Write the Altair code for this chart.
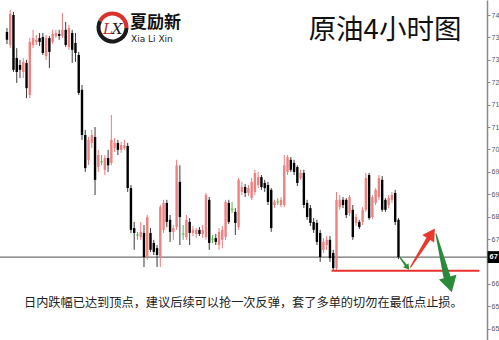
import altair as alt
import pandas as pd

# 4-hour crude oil candles (open / high / low / close)
opens = [73.86, 73.48, 74.35, 73.10, 72.90, 72.70, 72.96, 72.03, 73.48, 73.57,
         73.68, 73.71, 73.16, 73.68, 73.57, 73.74, 73.80, 73.74, 73.92, 73.42,
         73.83, 73.54, 73.19, 72.18, 70.87, 70.15, 70.64, 70.81, 69.94, 70.09,
         69.86, 70.20, 70.06, 70.49, 70.64, 70.44, 70.49, 70.55, 69.33, 68.17,
         67.97, 67.91, 68.03, 67.33, 68.03, 67.74, 67.59, 67.33, 68.12, 68.90,
         68.41, 68.06, 68.20, 69.51, 68.00, 67.91, 68.35, 68.03, 68.00, 68.12,
         68.00, 67.91, 68.99, 67.85, 67.88, 67.68, 67.83, 67.91, 68.90, 68.72,
         68.64, 68.20, 69.22, 69.36, 69.19, 69.04, 69.22, 69.42, 69.65, 69.48,
         69.42, 69.28, 68.84, 68.93, 68.84, 68.84, 69.80, 70.15, 70.06, 69.94,
         69.62, 69.77, 68.90, 68.75, 68.35, 68.32, 68.03, 67.54, 67.68, 67.83,
         67.45, 67.01, 68.78, 68.99, 68.99, 68.61, 68.70, 68.32, 68.35, 68.35,
         68.70, 69.71, 68.49, 68.90, 69.07, 69.57, 68.99, 68.84, 68.99, 69.19,
         68.41]
highs = [73.97, 74.50, 74.44, 73.39, 73.05, 73.10, 73.05, 73.68, 73.92, 73.77,
         73.83, 73.83, 73.77, 73.74, 73.92, 73.92, 73.92, 74.41, 74.15, 74.06,
         73.92, 73.83, 73.28, 72.32, 71.02, 70.81, 71.02, 71.10, 70.44, 70.29,
         70.29, 70.44, 71.45, 70.78, 70.73, 70.67, 70.73, 70.64, 69.42, 68.35,
         68.06, 68.35, 68.26, 68.55, 68.17, 67.83, 67.68, 68.84, 68.99, 68.99,
         68.55, 68.26, 70.15, 69.99, 68.26, 68.55, 68.46, 68.23, 68.17, 68.20,
         68.26, 69.19, 69.07, 67.97, 68.00, 68.17, 68.23, 68.99, 68.99, 68.93,
         68.75, 69.62, 69.51, 69.45, 69.42, 69.62, 69.86, 69.80, 69.71, 69.57,
         69.51, 69.33, 68.99, 69.04, 69.07, 70.29, 70.29, 70.23, 70.15, 69.99,
         69.86, 69.86, 68.99, 68.84, 68.46, 68.41, 68.12, 67.88, 67.94, 67.94,
         67.54, 69.22, 69.13, 69.07, 69.04, 69.13, 68.84, 68.58, 68.41, 68.78,
         69.77, 69.77, 69.13, 69.33, 69.71, 69.68, 69.04, 69.13, 69.22, 69.28,
         68.46]
lows = [73.51, 73.39, 72.70, 72.38, 72.52, 72.52, 71.94, 71.94, 73.39, 73.48,
        73.45, 73.19, 73.05, 72.81, 73.51, 73.68, 73.63, 73.68, 73.42, 73.34,
        72.96, 72.99, 72.03, 70.73, 69.80, 70.00, 70.49, 69.13, 69.80, 69.99,
        69.71, 69.80, 69.99, 70.38, 70.29, 70.35, 70.44, 69.22, 68.03, 67.54,
        67.83, 67.83, 67.04, 67.25, 67.48, 67.39, 67.04, 67.04, 68.03, 68.20,
        67.77, 67.83, 68.12, 67.68, 67.83, 67.83, 67.68, 67.94, 67.88, 67.94,
        67.88, 67.83, 67.54, 67.74, 67.68, 67.54, 67.59, 67.83, 68.29, 68.61,
        67.97, 68.12, 69.13, 69.07, 69.10, 68.99, 69.13, 69.33, 69.28, 69.22,
        68.84, 68.06, 68.75, 68.84, 68.78, 68.78, 69.71, 69.80, 69.71, 69.39,
        69.57, 68.75, 68.41, 68.23, 68.03, 67.68, 67.19, 67.45, 67.54, 67.19,
        66.93, 66.96, 68.70, 68.75, 68.46, 68.52, 67.83, 68.23, 68.14, 68.26,
        68.64, 68.41, 68.43, 68.84, 68.99, 68.64, 68.64, 68.75, 68.90, 68.26,
        67.27]
closes = [73.63, 74.38, 72.76, 72.70, 72.76, 72.99, 72.23, 73.57, 73.68, 73.63,
          73.57, 73.25, 73.68, 73.28, 73.80, 73.83, 73.74, 73.92, 73.48, 73.97,
          73.34, 73.25, 72.09, 70.87, 69.91, 70.73, 70.87, 69.57, 70.29, 70.09,
          70.20, 69.99, 70.73, 70.64, 70.44, 70.58, 70.58, 69.33, 68.12, 68.03,
          67.97, 68.06, 67.33, 68.49, 67.54, 67.48, 67.39, 68.78, 68.90, 68.35,
          68.06, 68.17, 69.99, 68.49, 68.00, 68.41, 68.03, 68.12, 68.12, 68.00,
          68.12, 69.13, 67.74, 67.85, 67.77, 68.06, 68.12, 68.93, 68.35, 68.72,
          68.32, 69.57, 69.36, 69.19, 69.33, 69.51, 69.77, 69.65, 69.36, 69.33,
          68.93, 68.17, 68.93, 68.93, 68.99, 69.99, 70.23, 69.86, 69.80, 69.48,
          69.77, 68.84, 68.49, 68.32, 68.12, 67.77, 67.33, 67.77, 67.83, 67.30,
          67.01, 68.99, 68.99, 68.84, 68.55, 69.07, 67.91, 68.49, 68.20, 68.70,
          69.62, 68.46, 69.07, 69.28, 69.62, 68.70, 68.70, 69.04, 69.13, 68.35,
          67.33]

price_ticks = [74.35, 73.70, 73.05, 72.40, 71.75, 71.10, 70.45, 69.80,
               69.15, 68.50, 67.85, 67.20, 66.55, 65.90, 65.25]

title_text = "原油4小时图"
brand_cn = "夏励新"
brand_en = "Xia Li Xin"
note_text = "日内跌幅已达到顶点，建议后续可以抢一次反弹，套了多单的切勿在最低点止损。"

# hand-drawn style annotation arrows: (arrow, bar position, price, stroke width)
arrow_shafts = [
    ("small", 120.4, 67.33, 1.2), ("small", 122.2, 67.10, 2.2),
    ("up", 123.7, 67.04, 1.2), ("up", 129.1, 67.85, 4.5),
    ("down", 131.5, 68.00, 1.2), ("down", 134.8, 66.78, 7.0),
]
# arrow heads: (arrow, bar position, price, angle, size)
arrow_heads = [
    ("small", 122.6, 67.05, 143, 45),
    ("up", 129.8, 67.96, 33, 200),
    ("down", 135.5, 66.60, 165, 330),
]
arrow_colors = {"small": "#2e8b3a", "up": "#e8392f", "down": "#2a8a3a"}
stop_line_end = 144.8

W, H = 487, 340

n = len(opens)
bars = pd.DataFrame({"i": list(range(n)), "open": opens, "high": highs,
                     "low": lows, "close": closes})
kind = ["doji" if o == c else ("up" if c > o else "down") for o, c in zip(opens, closes)]
bars["body_color"] = [{"up": "#f08080", "down": "#000000", "doji": "#4cbb4c"}[k] for k in kind]
bars["wick_color"] = [{"up": "#ee7b7b", "down": "#3a3a3a", "doji": "#4cbb4c"}[k] for k in kind]
bars["kind"] = kind

xs = alt.Scale(domain=[-0.6, 145.6], nice=False, zero=False)
ys = alt.Scale(domain=[64.925, 74.785], nice=False, zero=False)

last_close = closes[-1]

# narrow price scale on the right: only the whole-number part of each tick is shown,
# and the tick sitting under the current-price tag is left unlabeled
yaxis = alt.Axis(orient="right", values=price_ticks,
                 labelExpr=f"abs(datum.value - {last_close}) < 0.2 ? '' : floor(datum.value)",
                 title=None, grid=False, labelFontSize=7, labelColor="#555",
                 labelFont="Liberation Sans", labelPadding=1, labelOverlap=False,
                 tickSize=3, tickColor="#888", domainColor="#8a8a8a", domainWidth=1.5)

X = alt.X("i:Q", scale=xs, axis=None)


def Y(field):
    return alt.Y(field, scale=ys, axis=yaxis)


wicks = alt.Chart(bars).mark_rule(strokeWidth=1).encode(
    x=X, y=Y("low:Q"), y2="high:Q",
    color=alt.Color("wick_color:N", scale=None),
)
bodies = alt.Chart(bars).mark_bar(size=2.4).encode(
    x=X, y=Y("open:Q"), y2="close:Q",
    color=alt.Color("body_color:N", scale=None),
)
dojis = alt.Chart(bars[bars["kind"] == "doji"]).mark_tick(
    orient="horizontal", size=3, thickness=1.2, color="#4cbb4c"
).encode(x=X, y=Y("close:Q"))

last = pd.DataFrame({"price": [last_close], "label": [str(int(last_close))]})
price_line = alt.Chart(last).mark_rule(color="#707070", strokeWidth=1.2).encode(y=Y("price:Q"))
price_box = alt.Chart(last).mark_square(size=140, color="#000000", opacity=1, filled=True).encode(
    x=alt.value(W + 6.5), y=Y("price:Q"))
price_tag = alt.Chart(last).mark_text(align="left", baseline="middle", color="#ffffff",
                                      fontSize=7.5, fontWeight="bold", font="Liberation Sans").encode(
    x=alt.value(W + 2.5), y=Y("price:Q"), text="label:N")

i_low = lows.index(min(lows))
stop = pd.DataFrame({"start": [i_low - 0.5], "end": [stop_line_end], "price": [min(lows)]})
stop_line = alt.Chart(stop).mark_rule(color="#e8302c", strokeWidth=2).encode(
    x=alt.X("start:Q", scale=xs, axis=None), x2="end:Q", y=Y("price:Q"))

shafts = pd.DataFrame(arrow_shafts, columns=["arrow", "i", "price", "w"])
shafts["color"] = shafts["arrow"].map(arrow_colors)
shaft_layer = alt.Chart(shafts).mark_trail().encode(
    x=X, y=Y("price:Q"),
    size=alt.Size("w:Q", scale=None, legend=None),
    color=alt.Color("color:N", scale=None),
    detail="arrow:N",
)
heads = pd.DataFrame(arrow_heads, columns=["arrow", "i", "price", "angle", "s"])
heads["color"] = heads["arrow"].map(arrow_colors)
head_layer = alt.Chart(heads).mark_point(shape="triangle", filled=True, opacity=1).encode(
    x=X, y=Y("price:Q"),
    angle=alt.Angle("angle:Q", scale=None),
    size=alt.Size("s:Q", scale=None, legend=None),
    color=alt.Color("color:N", scale=None),
)

one = pd.DataFrame({"k": [0]})


def label(text, x, y, **kw):
    return alt.Chart(one).mark_text(text=text, **kw).encode(x=alt.value(x), y=alt.value(y))


ring_red = alt.Chart(one).mark_arc(innerRadius=12, outerRadius=16, theta=5.2, theta2=7.9,
                                   color="#d8322a").encode(x=alt.value(112.5), y=alt.value(27.5))
ring_dark = alt.Chart(one).mark_arc(innerRadius=12, outerRadius=16, theta=1.6, theta2=5.2,
                                    color="#1a1a1a").encode(x=alt.value(112.5), y=alt.value(27.5))
logo_l = label("L", 108, 29, fontSize=15, fontStyle="italic", font="DejaVu Serif",
               color="#c0302a", align="center", baseline="middle")
logo_x = label("X", 117, 29, fontSize=15, fontStyle="italic", font="DejaVu Serif",
               color="#222222", align="center", baseline="middle")
brand1 = label(brand_cn, 130, 22.5, fontSize=17, font="Noto Sans CJK SC", fontWeight="bold",
               color="#111111", align="left", baseline="middle")
brand2 = label(brand_en, 131, 38.5, fontSize=9, font="DejaVu Sans",
               color="#222222", align="left", baseline="middle")
title = label(title_text, 385, 31, fontSize=27.5, font="Noto Sans CJK SC",
              color="#111111", align="center", baseline="middle")
note = label(note_text, 24, 303, fontSize=12.2, font="Noto Sans CJK SC",
             color="#222222", align="left", baseline="middle")

chart = alt.layer(
    price_line, wicks, bodies, dojis, stop_line, shaft_layer, head_layer,
    price_box, price_tag, ring_dark, ring_red, logo_l, logo_x, brand1, brand2, title, note,
).properties(
    width=W, height=H,
    autosize=alt.AutoSizeParams(type="none"),
    padding={"left": 0, "right": 12, "top": 0, "bottom": 0},
    background="#ffffff",
).configure_view(stroke=None)

chart.save("out.html", embed_options={"renderer": "svg", "actions": False})
